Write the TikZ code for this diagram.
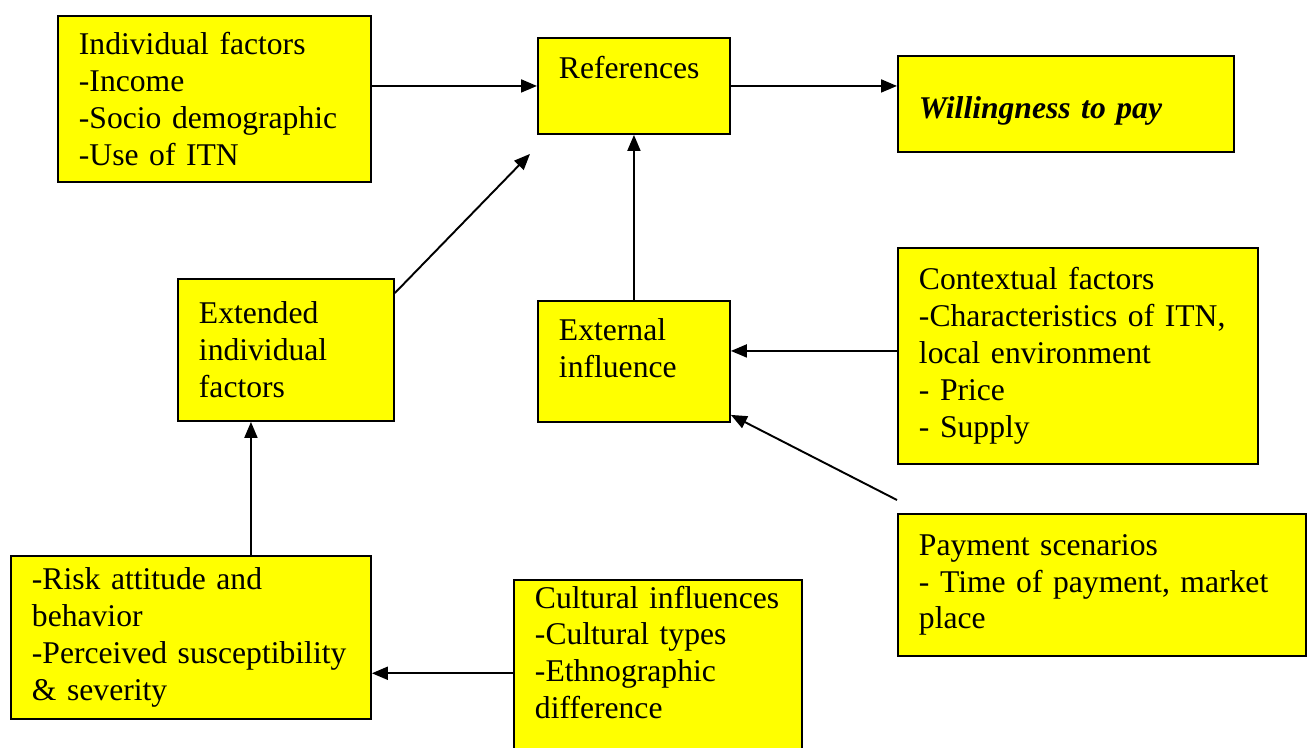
\documentclass[tikz,border=0pt]{standalone}
\usepackage{fontspec}
\setmainfont{Liberation Serif}
\usetikzlibrary{arrows.meta}
\definecolor{boxyellow}{RGB}{255,255,0}
\tikzset{
  factor/.style={draw=black, line width=1.1pt, fill=boxyellow, anchor=north west, align=left,
    inner xsep=0.42cm, font=\fontsize{18}{21}\selectfont},
  arr/.style={line width=1.1pt, -{Triangle[length=0.32cm,width=0.26cm]}}
}
\begin{document}
\begin{tikzpicture}[x=0.02cm,y=-0.02cm]
\useasboundingbox (0,0) rectangle (1307,747);
% top row
\node[factor, text width=5.42cm, minimum height=3.32cm] (ind) at (57,15) {Individual factors\\-Income\\-Socio demographic\\-Use of ITN};
\node[factor, text width=3.0cm, minimum height=1.92cm] (ref) at (537,37) {References\\\mbox{}};
\node[factor, text width=5.88cm, minimum height=1.92cm] (wtp) at (897,55) {\mbox{}\\\textbf{\textit{Willingness to pay}}};

% middle
\node[factor, text width=3.48cm, minimum height=2.84cm] (ext) at (177,278) {Extended\\individual\\factors};
\node[factor, text width=3.0cm, minimum height=2.42cm] (exi) at (537,300) {External\\influence\\[-0.2cm]\mbox{}};
\node[factor, text width=6.36cm, minimum height=4.32cm] (ctx) at (897,247) {Contextual factors\\-Characteristics of ITN,\\local environment\\- Price\\- Supply};
\node[factor, text width=7.32cm, minimum height=2.84cm] (pay) at (897,513) {Payment scenarios\\- Time of payment, market\\place};

% bottom row
\node[factor, text width=6.36cm, minimum height=3.26cm] (risk) at (10,555) {-Risk attitude and\\behavior\\-Perceived susceptibility\\\& severity};
\node[factor, text width=4.92cm, minimum height=3.6cm] (cul) at (513,579) {Cultural influences\\-Cultural types\\-Ethnographic\\difference\\[0.5cm]\mbox{}};

\draw[arr] (ind.east |- ref.west) -- (ref.west);
\draw[arr] (ref.east) -- (ref.east -| wtp.west);
\draw[arr] ([yshift=-0.3cm]ext.north east) -- ([xshift=-0.14cm,yshift=-0.38cm]ref.south west);
\draw[arr] (exi.north) -- (ref.south);
\draw[arr] ([yshift=0.1cm]ctx.west) -- ([yshift=0.1cm]ctx.west -| exi.east);
\draw[arr] ([yshift=0.26cm]pay.north west) -- ([yshift=0.16cm]exi.south east);
\draw[arr] ([xshift=-0.7cm]ext.south |- risk.north) -- ([xshift=-0.7cm]ext.south);
\draw[arr] ([yshift=0.2cm]cul.west) -- ([yshift=0.2cm]cul.west -| risk.east);
\end{tikzpicture}
\end{document}
